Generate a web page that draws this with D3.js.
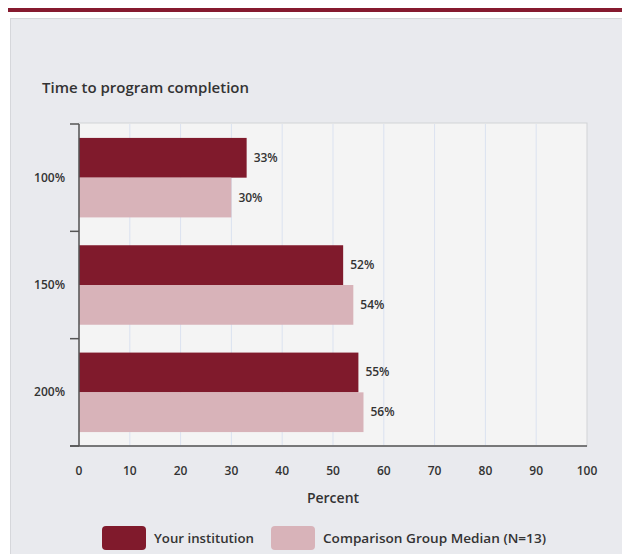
<!DOCTYPE html>
<html>
<head>
<meta charset="utf-8">
<script src="https://cdn.jsdelivr.net/npm/d3@7"></script>
<style>
  html, body { margin: 0; padding: 0; background: #fff; }
  svg { display: block; font-family: "Open Sans", Lato, sans-serif; }
</style>
</head>
<body>
<svg width="622" height="554"></svg>
<script>
// datos del gráfico
const categories = ["100%", "150%", "200%"];
const seriesNames = ["Your institution", "Comparison Group Median (N=13)"];
const yourInstitution = [33, 52, 55];
const comparisonMedian = [30, 54, 56];
const xTicks = [0, 10, 20, 30, 40, 50, 60, 70, 80, 90, 100];
const colors = ["#801a2c", "#d8b3b9"];

const svg = d3.select("svg");

// barra superior y panel
svg.append("rect").attr("x", 8).attr("y", 8).attr("width", 614).attr("height", 4).attr("fill", "#861a2f");
svg.append("rect").attr("x", 10.5).attr("y", 18.5).attr("width", 620).attr("height", 540)
  .attr("fill", "#e9eaee").attr("stroke", "#d6d7db");

svg.append("text").attr("x", 42).attr("y", 93)
  .attr("font-size", 14.5).attr("font-weight", 600).attr("fill", "#333")
  .attr("textLength", 207).attr("lengthAdjust", "spacingAndGlyphs")
  .text("Time to program completion");

const margin = { left: 79, top: 124, right: 587, bottom: 446 };
const x = d3.scaleLinear().domain([0, 100]).range([margin.left, margin.right]);
const y = d3.scaleBand().domain(categories).range([margin.top, margin.bottom]).paddingInner(0).paddingOuter(0);
const inner = d3.scaleBand().domain([0, 1]).range([0, y.bandwidth()]).paddingOuter(0.35).paddingInner(0);

// fondo del área de trazado
svg.append("rect").attr("x", margin.left).attr("y", margin.top - 1)
  .attr("width", margin.right - margin.left).attr("height", margin.bottom - margin.top + 1)
  .attr("fill", "#f4f4f4").attr("stroke", "#d2d3d6");

// rejilla
svg.append("g").selectAll("line").data(xTicks.slice(1, -1)).enter().append("line")
  .attr("x1", d => x(d)).attr("x2", d => x(d))
  .attr("y1", margin.top).attr("y2", margin.bottom)
  .attr("stroke", "#dbe2f0").attr("stroke-width", 1);

// barras
const rows = categories.map((c, i) => ({ cat: c, vals: [yourInstitution[i], comparisonMedian[i]] }));
const grp = svg.append("g").selectAll("g").data(rows).enter().append("g")
  .attr("transform", d => `translate(0,${y(d.cat)})`);

grp.selectAll("rect").data(d => d.vals).enter().append("rect")
  .attr("x", x(0)).attr("y", (d, i) => inner(i))
  .attr("width", d => x(d) - x(0)).attr("height", inner.bandwidth())
  .attr("fill", (d, i) => colors[i]);

grp.selectAll("text").data(d => d.vals).enter().append("text")
  .attr("x", d => x(d) + 7).attr("y", (d, i) => inner(i) + inner.bandwidth() / 2 + 4)
  .attr("font-size", 12).attr("font-weight", 600).attr("fill", "#333")
  .text(d => d + "%");

// eje Y
const yAxis = svg.append("g");
yAxis.append("line").attr("x1", margin.left).attr("x2", margin.left)
  .attr("y1", margin.top).attr("y2", margin.bottom).attr("stroke", "#555").attr("stroke-width", 1.5);
yAxis.selectAll("line.tick").data(categories.map(c => y(c)).concat([margin.bottom])).enter().append("line")
  .attr("class", "tick").attr("x1", 70).attr("x2", margin.left)
  .attr("y1", d => d).attr("y2", d => d).attr("stroke", "#555").attr("stroke-width", 1.5);
yAxis.selectAll("text").data(categories).enter().append("text")
  .attr("x", 65).attr("y", d => y(d) + y.bandwidth() / 2 + 4)
  .attr("text-anchor", "end").attr("font-size", 12).attr("font-weight", 600).attr("fill", "#333")
  .text(d => d);

// eje X
const xAxis = svg.append("g");
xAxis.append("line").attr("x1", 70).attr("x2", margin.right)
  .attr("y1", margin.bottom).attr("y2", margin.bottom).attr("stroke", "#555").attr("stroke-width", 1.5);
xAxis.selectAll("text").data(xTicks).enter().append("text")
  .attr("x", d => x(d)).attr("y", 475).attr("text-anchor", "middle")
  .attr("font-size", 12).attr("font-weight", 600).attr("fill", "#333")
  .text(d => d);

svg.append("text").attr("x", (margin.left + margin.right) / 2).attr("y", 503)
  .attr("text-anchor", "middle").attr("font-size", 14).attr("font-weight", 600).attr("fill", "#333")
  .text("Percent");

// leyenda
const legendX = [102, 271];
const legendLen = [100, 223];
const lg = svg.append("g").selectAll("g").data(seriesNames).enter().append("g")
  .attr("transform", (d, i) => `translate(${legendX[i]},526)`);
lg.append("rect").attr("width", 44).attr("height", 24).attr("rx", 4)
  .attr("fill", (d, i) => colors[i]);
lg.append("text").attr("x", 52).attr("y", 16.5)
  .attr("font-size", 12.5).attr("font-weight", 600).attr("fill", "#333")
  .attr("textLength", (d, i) => legendLen[i]).attr("lengthAdjust", "spacingAndGlyphs")
  .text(d => d);
</script>
</body>
</html>
